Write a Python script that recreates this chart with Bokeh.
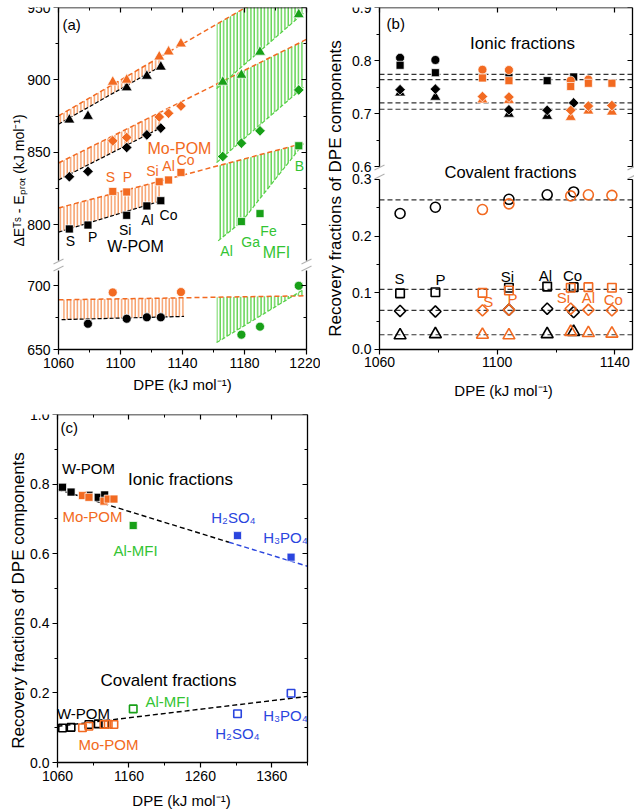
import numpy as np
from math import pi
from bokeh.plotting import figure
from bokeh.models import (LinearAxis, FixedTicker, Range1d, Label, PolyAnnotation,
                          NumeralTickFormatter)
from bokeh.layouts import column, row
from bokeh.embed import file_html
from bokeh.resources import INLINE

FONT = "Liberation Sans"
ORANGE = "#F26A21"
ORANGE_H = "#F5955A"
GREEN = "#18A018"
GREEN_H = "#55D045"
GREEN_T = "#33C433"
BLUE = "#2A45DE"

# ---------------- data ----------------
# Panel (a): DPE positions
dpe_w = [1067, 1079, 1104, 1117, 1126]      # W-POM: S, P, Si, Al, Co
dpe_mo = [1095, 1104, 1125, 1131, 1139]     # Mo-POM: S, P, Si, Al, Co
dpe_mfi = [1166, 1178, 1190, 1215]          # MFI: Al, Ga, Fe, B
elem_pom = ["S", "P", "Si", "Al", "Co"]
elem_mfi = ["Al", "Ga", "Fe", "B"]

a_w_tri = [872.5, 875.0, 894.7, 902.7, 909.0]
a_mo_tri = [898.6, 900.0, 916.0, 919.5, 925.0]
a_mfi_tri = [898.6, 903.4, 919.3, 945.2]
a_w_dia = [833.2, 836.9, 853.4, 862.1, 866.8]
a_mo_dia = [858.0, 860.3, 874.5, 877.0, 882.0]
a_mfi_dia = [847.2, 856.4, 864.9, 893.1]
a_w_sq = [797.2, 799.9, 806.6, 813.1, 816.7]
a_mo_sq = [823.1, 822.7, 829.8, 831.0, 836.2]
a_mfi_sq_x = [1178, 1190, 1215]
a_mfi_sq = [802.3, 807.8, 854.6]
a_w_circ_x = [1079, 1104, 1117, 1126]
a_w_circ = [670.3, 674.2, 675.3, 675.3]
a_mo_circ_x = [1095, 1139]
a_mo_circ = [694.8, 695.1]
a_mfi_circ_x = [1178, 1190, 1215]
a_mfi_circ = [661.7, 668.0, 700.0]

# fitted (dashed) lines of panel (a)
fit_mo_x = [1060, 1220]
fit_mo_tri = [875.2, 974.4]
fit_mo_dia = [842.7, 928.0]
fit_mo_sq = [811.7, 856.9]
fit_mo_circ = [689.0, 692.2]
fit_w_x = [1060, 1126]
fit_w_tri = [869.5, 909.5]
fit_w_dia = [831.0, 867.0]
fit_w_sq = [795.0, 816.5]
fit_w_circ_x = [1062, 1141]
fit_w_circ = [673.5, 676.0]
fit_mfi_x = [1162, 1218]
fit_mfi_tri = [894.0, 946.0]
fit_mfi_dia = [843.0, 895.0]
fit_mfi_sq_x = [1163, 1178, 1218]
fit_mfi_sq = [789.0, 802.0, 856.0]
fit_mfi_circ = [655.5, 697.0]

# Panel (b): ionic (upper) and covalent (lower) fractions
b_w_ion_circ_x = [1067, 1079]
b_w_ion_circ = [0.805, 0.801]
b_w_ion_sq = [0.791, 0.777, 0.768, 0.762, 0.769]
b_w_ion_dia = [0.745, 0.746, 0.707, 0.706, 0.720]
b_w_ion_tri_x = [1067, 1079, 1104, 1117]
b_w_ion_tri = [0.739, 0.731, 0.699, 0.695]
b_mo_ion_circ_x = [1095, 1104, 1125, 1131]
b_mo_ion_circ = [0.7825, 0.782, 0.762, 0.764]
b_mo_ion_sq = [0.767, 0.762, 0.751, 0.757, 0.757]
b_mo_ion_dia = [0.732, 0.731, 0.706, 0.714, 0.715]
b_mo_ion_tri = [0.726, 0.725, 0.693, 0.705, 0.703]
b_ion_means = [0.774, 0.764, 0.720, 0.708]

b_w_cov_circ = [0.240, 0.251, 0.265, 0.273, 0.278]
b_mo_cov_circ = [0.247, 0.257, 0.271, 0.273, 0.272]
b_w_cov_sq = [0.099, 0.101, 0.109, 0.111, 0.110]
b_mo_cov_sq = [0.100, 0.104, 0.109, 0.110, 0.109]
b_w_cov_dia = [0.068, 0.067, 0.070, 0.072, 0.066]
b_mo_cov_dia = [0.069, 0.070, 0.072, 0.070, 0.069]
b_w_cov_tri_x = [1067, 1079, 1117, 1126]
b_w_cov_tri = [0.025, 0.027, 0.027, 0.031]
b_mo_cov_tri = [0.026, 0.025, 0.031, 0.029, 0.028]
b_cov_means = [0.264, 0.106, 0.069, 0.026]

# Panel (c)
c_mfi_x = [1166]
c_mfi_ion = [0.681]
c_mfi_cov = [0.154]
c_acid_x = [1312, 1387]
c_acid_ion = [0.652, 0.590]
c_acid_cov = [0.140, 0.199]
c_ion_fit_x = [1060, 1300, 1410]
c_ion_fit = [0.785, 0.633, 0.564]
c_cov_fit_x = [1060, 1410]
c_cov_fit = [0.104, 0.190]

DPE_TITLE = "DPE (kJ mol⁻¹)"
YA_TITLE = "ΔEᵀˢ - Eₚᵣₒₜ (kJ mol⁻¹)"
YB_TITLE = "Recovery fractions of DPE components"


# ---------------- helpers ----------------
def base_fig(w, h, xr, yr, top):
    p = figure(width=w, height=h, x_range=Range1d(*xr), y_range=Range1d(*yr),
               output_backend="svg", toolbar_location=None,
               x_axis_location=None, y_axis_location=None,
               min_border_left=0, min_border_right=0,
               min_border_top=top, min_border_bottom=0)
    p.outline_line_color = None
    p.background_fill_color = "white"
    p.border_fill_color = "white"
    p.xgrid.visible = False
    p.ygrid.visible = False
    return p


def axis(p, side, loc, bounds, ticks, minor, labels=False, inward=True,
         fmt=None, rng="default"):
    ax = LinearAxis(fixed_location=loc, bounds=bounds)
    if side in ("left", "right"):
        ax.y_range_name = rng
    ax.ticker = FixedTicker(ticks=ticks, minor_ticks=minor)
    ax.axis_line_width = 1.3
    ax.axis_line_color = "black"
    ax.major_tick_line_width = 1.2
    ax.minor_tick_line_width = 1.0
    ax.major_tick_line_color = "black"
    ax.minor_tick_line_color = "black"
    if inward:
        ax.major_tick_in, ax.major_tick_out = 5, 0
        ax.minor_tick_in, ax.minor_tick_out = 3, 0
    else:
        ax.major_tick_in, ax.major_tick_out = 0, 5
        ax.minor_tick_in, ax.minor_tick_out = 0, 3
    ax.major_label_text_font = FONT
    ax.major_label_text_font_size = "14px"
    ax.major_label_text_color = "black"
    if labels:
        ax.major_label_standoff = 3
    else:
        ax.major_label_overrides = {t: "" for t in ticks}
        ax.major_label_standoff = 0
    if fmt is not None:
        ax.formatter = NumeralTickFormatter(format=fmt)
    p.add_layout(ax, side)


def txt(p, x, y, s, color="black", size="14px", align="center", units="data",
        angle=0.0, rng="default"):
    p.add_layout(Label(x=x, y=y, text=s, x_units=units, y_units=units, angle=angle,
                       y_range_name=rng, text_color=color, text_font=FONT,
                       text_font_size=size, text_align=align, text_baseline="middle"))


def brk(p, x, y):
    p.add_layout(PolyAnnotation(xs=[x - 5, x + 5], ys=[y + 2.5, y - 2.5],
                                xs_units="canvas", ys_units="canvas",
                                line_color="black", line_width=1.2, fill_alpha=0))


def hatch(p, xs, bottom, top, color, rng="default"):
    p.varea(x=xs, y1=bottom, y2=top, fill_alpha=0, hatch_pattern="vertical_line",
            hatch_color=color, hatch_weight=1.5, hatch_scale=3.4, hatch_alpha=0.9,
            y_range_name=rng)


def dline(p, xs, ys, color, width=1.5, dash="5 3", rng="default"):
    p.line(xs, ys, line_color=color, line_width=width, line_dash=dash,
           y_range_name=rng)


def pts(p, xs, ys, marker, color, size, filled=True, angle=0.0, rng="default"):
    if filled:
        p.scatter(xs, ys, marker=marker, size=size, fill_color=color,
                  line_color="white", line_width=0.7, angle=angle, y_range_name=rng)
    else:
        p.scatter(xs, ys, marker=marker, size=size, fill_alpha=0,
                  line_color=color, line_width=1.6, angle=angle, y_range_name=rng)


# ---------------- panel (a) ----------------
A = base_fig(320, 400, (1022.58, 1229.03), (610.16, 917.97), 6)
A.extra_y_ranges = {"up": Range1d(678.84, 950)}
xa_t = [1060, 1100, 1140, 1180, 1220]
xa_m = [1080, 1120, 1160, 1200]
axis(A, "below", 650, (1060, 1220), xa_t, xa_m, labels=True, inward=False)
axis(A, "above", 917.97, (1060, 1220), xa_t, xa_m)
axis(A, "left", 1060, (775.2, 950), [800, 850, 900, 950], [825, 875, 925],
     labels=True, inward=False, rng="up")
axis(A, "right", 1220, (775.2, 950), [800, 850, 900, 950], [825, 875, 925], rng="up")
axis(A, "left", 1060, (650, 711.7), [650, 700], [675], labels=True, inward=False)
axis(A, "right", 1220, (650, 711.7), [650, 700], [675])

# orange hatching (Mo-POM vs W-POM)
for fb, ftop in [(fit_w_tri, fit_mo_tri), (fit_w_dia, fit_mo_dia), (fit_w_sq, fit_mo_sq)]:
    hatch(A, fit_w_x, fb, list(np.interp(fit_w_x, fit_mo_x, ftop)), ORANGE_H, "up")
hatch(A, fit_w_circ_x, fit_w_circ, list(np.interp(fit_w_circ_x, fit_mo_x, fit_mo_circ)),
      ORANGE_H)
# green hatching (MFI vs Mo-POM)
hatch(A, fit_mfi_x, fit_mfi_tri, list(np.interp(fit_mfi_x, fit_mo_x, fit_mo_tri)), GREEN_H, "up")
hatch(A, fit_mfi_x, fit_mfi_dia, list(np.interp(fit_mfi_x, fit_mo_x, fit_mo_dia)), GREEN_H, "up")
hatch(A, fit_mfi_sq_x, fit_mfi_sq, list(np.interp(fit_mfi_sq_x, fit_mo_x, fit_mo_sq)), GREEN_H, "up")
hatch(A, fit_mfi_x, fit_mfi_circ, list(np.interp(fit_mfi_x, fit_mo_x, fit_mo_circ)), GREEN_H)

# fitted lines
for ys in (fit_mo_tri, fit_mo_dia, fit_mo_sq):
    dline(A, fit_mo_x, ys, ORANGE, rng="up")
dline(A, fit_mo_x, fit_mo_circ, ORANGE)
for ys in (fit_w_tri, fit_w_dia, fit_w_sq):
    dline(A, fit_w_x, ys, "black", 1.2, "4 2", rng="up")
dline(A, fit_w_circ_x, fit_w_circ, "black", 1.2, "4 2")
dline(A, fit_mfi_x, fit_mfi_tri, GREEN_H, 1.2, "4 2", rng="up")
dline(A, fit_mfi_x, fit_mfi_dia, GREEN_H, 1.2, "4 2", rng="up")
dline(A, fit_mfi_sq_x, fit_mfi_sq, GREEN_H, 1.2, "4 2", rng="up")
dline(A, fit_mfi_x, fit_mfi_circ, GREEN_H, 1.2, "4 2")

# markers
pts(A, dpe_w, a_w_tri, "triangle", "black", 11, rng="up")
pts(A, dpe_mo, a_mo_tri, "triangle", ORANGE, 11, rng="up")
pts(A, dpe_mfi, a_mfi_tri, "triangle", GREEN, 11, rng="up")
pts(A, dpe_w, a_w_dia, "square", "black", 7.5, angle=pi / 4, rng="up")
pts(A, dpe_mo, a_mo_dia, "square", ORANGE, 7.5, angle=pi / 4, rng="up")
pts(A, dpe_mfi, a_mfi_dia, "square", GREEN, 7.5, angle=pi / 4, rng="up")
pts(A, dpe_w, a_w_sq, "square", "black", 8, rng="up")
pts(A, dpe_mo, a_mo_sq, "square", ORANGE, 8, rng="up")
pts(A, a_mfi_sq_x, a_mfi_sq, "square", GREEN, 8, rng="up")
pts(A, a_w_circ_x, a_w_circ, "circle", "black", 9)
pts(A, a_mo_circ_x, a_mo_circ, "circle", ORANGE, 9)
pts(A, a_mfi_circ_x, a_mfi_circ, "circle", GREEN, 9)

# labels panel (a)
txt(A, 1062.6, 938.3, "(a)", size="15px", align="left", rng="up")
txt(A, 1138, 853, "Mo-POM", ORANGE, "16px", rng="up")
for s, x, y in zip(elem_pom, [1093.5, 1104.5, 1120.6, 1131.0, 1142.0],
                   [833.0, 833.0, 837.1, 840.6, 844.7]):
    txt(A, x, y, s, ORANGE, rng="up")
for s, x, y in zip(elem_pom, [1067.7, 1082.0, 1103.0, 1117.4, 1131.0],
                   [789.0, 791.7, 796.5, 803.4, 806.8]):
    txt(A, x, y, s, "black", rng="up")
txt(A, 1109.7, 784.8, "W-POM", "black", "16px", rng="up")
for s, x, y in zip(elem_mfi, [1168.4, 1184.0, 1195.5, 1215.5],
                   [782.0, 788.3, 795.8, 840.6]):
    txt(A, x, y, s, GREEN_T, rng="up")
txt(A, 1200.6, 780.7, "MFI", GREEN_T, "16px", rng="up")
txt(A, 18, 180, YA_TITLE, size="14px", units="canvas", angle=pi / 2)
txt(A, 182, 384, DPE_TITLE, size="15px", units="canvas")
for xx in (58, 306):
    brk(A, xx, 261)
    brk(A, xx, 268)

# ---------------- panel (b) ----------------
B = base_fig(314, 400, (1039.95, 1146.68), (-0.09, 0.6035), 7)
B.extra_y_ranges = {"up": Range1d(0.1585, 0.9)}
xb_t = [1060, 1100, 1140]
xb_m = [1080, 1120]
axis(B, "below", 0.0, (1060, 1146), xb_t, xb_m, labels=True, inward=False)
axis(B, "above", 0.6035, (1060, 1146), xb_t, xb_m)
axis(B, "left", 1060, (0.6, 0.9), [0.6, 0.7, 0.8, 0.9], [0.65, 0.75, 0.85],
     labels=True, inward=False, fmt="0.0", rng="up")
axis(B, "right", 1146, (0.6, 0.9), [0.6, 0.7, 0.8, 0.9], [0.65, 0.75, 0.85], rng="up")
axis(B, "left", 1060, (0.0, 0.3), [0.0, 0.1, 0.2, 0.3], [0.05, 0.15, 0.25],
     labels=True, inward=False, fmt="0.0")
axis(B, "right", 1146, (0.0, 0.3), [0.0, 0.1, 0.2, 0.3], [0.05, 0.15, 0.25])

n_ion = len(b_ion_means)
B.segment(x0=[1060] * n_ion, x1=[1146] * n_ion, y0=b_ion_means, y1=b_ion_means,
          line_color="#333333", line_width=1.2, line_dash="5 3", y_range_name="up")
n_cov = len(b_cov_means)
B.segment(x0=[1060] * n_cov, x1=[1146] * n_cov, y0=b_cov_means, y1=b_cov_means,
          line_color="#333333", line_width=1.2, line_dash="5 3")

pts(B, b_w_ion_circ_x, b_w_ion_circ, "circle", "black", 9, rng="up")
pts(B, dpe_w, b_w_ion_sq, "square", "black", 8, rng="up")
pts(B, b_w_ion_tri_x, b_w_ion_tri, "triangle", "black", 11, rng="up")
pts(B, dpe_w, b_w_ion_dia, "square", "black", 7.5, angle=pi / 4, rng="up")
pts(B, b_mo_ion_circ_x, b_mo_ion_circ, "circle", ORANGE, 9, rng="up")
pts(B, dpe_mo, b_mo_ion_sq, "square", ORANGE, 8, rng="up")
pts(B, dpe_mo, b_mo_ion_tri, "triangle", ORANGE, 11, rng="up")
pts(B, dpe_mo, b_mo_ion_dia, "square", ORANGE, 7.5, angle=pi / 4, rng="up")

pts(B, dpe_w, b_w_cov_circ, "circle", "black", 10, filled=False)
pts(B, dpe_w, b_w_cov_sq, "square", "black", 8.5, filled=False)
pts(B, dpe_w, b_w_cov_dia, "square", "black", 8, filled=False, angle=pi / 4)
pts(B, b_w_cov_tri_x, b_w_cov_tri, "triangle", "black", 12, filled=False)
pts(B, dpe_mo, b_mo_cov_circ, "circle", ORANGE, 10, filled=False)
pts(B, dpe_mo, b_mo_cov_sq, "square", ORANGE, 8.5, filled=False)
pts(B, dpe_mo, b_mo_cov_dia, "square", ORANGE, 8, filled=False, angle=pi / 4)
pts(B, dpe_mo, b_mo_cov_tri, "triangle", ORANGE, 12, filled=False)

txt(B, 1062.4, 0.87, "(b)", size="15px", align="left", rng="up")
txt(B, 1108.6, 0.832, "Ionic fractions", size="17px", rng="up")
txt(B, 190, 171, "Covalent fractions", size="16.5px", units="canvas")
for s, x, y in zip(elem_pom, [1066.8, 1080.7, 1103.5, 1116.4, 1125.6],
                   [0.125, 0.1235, 0.129, 0.1306, 0.1306]):
    txt(B, x, y, s, "black", "15px")
for s, x, y in zip(elem_pom, [1097.0, 1105.2, 1122.5, 1131.0, 1139.5],
                   [0.0847, 0.090, 0.0918, 0.0918, 0.088]):
    txt(B, x, y, s, ORANGE, "15px")
txt(B, 15, 188, YB_TITLE, size="17px", units="canvas", angle=pi / 2)
txt(B, 183, 390, DPE_TITLE, size="15px", units="canvas")
for xx in (59, 312):
    brk(B, xx, 167)
    brk(B, xx, 176)

# ---------------- panel (c) ----------------
C = base_fig(320, 411, (980.2, 1428.2), (-0.1408, 1.0), 14)
xc_t = [1060, 1160, 1260, 1360]
xc_m = [1110, 1210, 1310, 1410]
yc_t = [0.0, 0.2, 0.4, 0.6, 0.8, 1.0]
yc_m = [0.1, 0.3, 0.5, 0.7, 0.9]
axis(C, "below", 0.0, (1060, 1410), xc_t, xc_m, labels=True, inward=False)
axis(C, "above", 1.0, (1060, 1410), xc_t, xc_m)
axis(C, "left", 1060, (0.0, 1.0), yc_t, yc_m, labels=True, inward=False, fmt="0.0")
axis(C, "right", 1410, (0.0, 1.0), yc_t, yc_m)

dline(C, c_ion_fit_x[:2], c_ion_fit[:2], "black", 1.4, "5 3")
dline(C, c_ion_fit_x[1:], c_ion_fit[1:], BLUE, 1.4, "5 3")
dline(C, c_cov_fit_x, c_cov_fit, "black", 1.4, "5 3")

pts(C, dpe_w, b_w_ion_sq, "square", "black", 8)
pts(C, dpe_mo, b_mo_ion_sq, "square", ORANGE, 8)
pts(C, c_mfi_x, c_mfi_ion, "square", GREEN, 8)
pts(C, c_acid_x, c_acid_ion, "square", BLUE, 8)
pts(C, dpe_w, b_w_cov_sq, "square", "black", 7.5, filled=False)
pts(C, dpe_mo, b_mo_cov_sq, "square", ORANGE, 7.5, filled=False)
pts(C, c_mfi_x, c_mfi_cov, "square", GREEN, 7.5, filled=False)
pts(C, c_acid_x, c_acid_cov, "square", BLUE, 7.5, filled=False)

txt(C, 1064.2, 0.9626, "(c)", size="15px", align="left")
txt(C, 1103.4, 0.845, "W-POM", "black", "15px")
txt(C, 1232.2, 0.813, "Ionic fractions", size="17px")
txt(C, 1109.0, 0.707, "Mo-POM", ORANGE, "15px")
txt(C, 1169.2, 0.609, "Al-MFI", GREEN_T, "15px")
txt(C, 1306.4, 0.704, "H₂SO₄", BLUE, "15px")
txt(C, 1379.2, 0.6466, "H₃PO₄", BLUE, "15px")
txt(C, 1215.4, 0.2356, "Covalent fractions", size="17px")
txt(C, 1214.0, 0.175, "Al-MFI", GREEN_T, "15px")
txt(C, 1096.4, 0.1408, "W-POM", "black", "15px")
txt(C, 1379.2, 0.135, "H₃PO₄", BLUE, "15px")
txt(C, 1312.0, 0.0833, "H₂SO₄", BLUE, "15px")
txt(C, 1131.4, 0.0517, "Mo-POM", ORANGE, "15px")
txt(C, 18, 200, YB_TITLE, size="17px", units="canvas", angle=pi / 2)
txt(C, 181, 400, DPE_TITLE, size="15px", units="canvas")

layout = column(row(A, B), C)

with open("out.html", "w") as f:
    f.write(file_html(layout, INLINE))
